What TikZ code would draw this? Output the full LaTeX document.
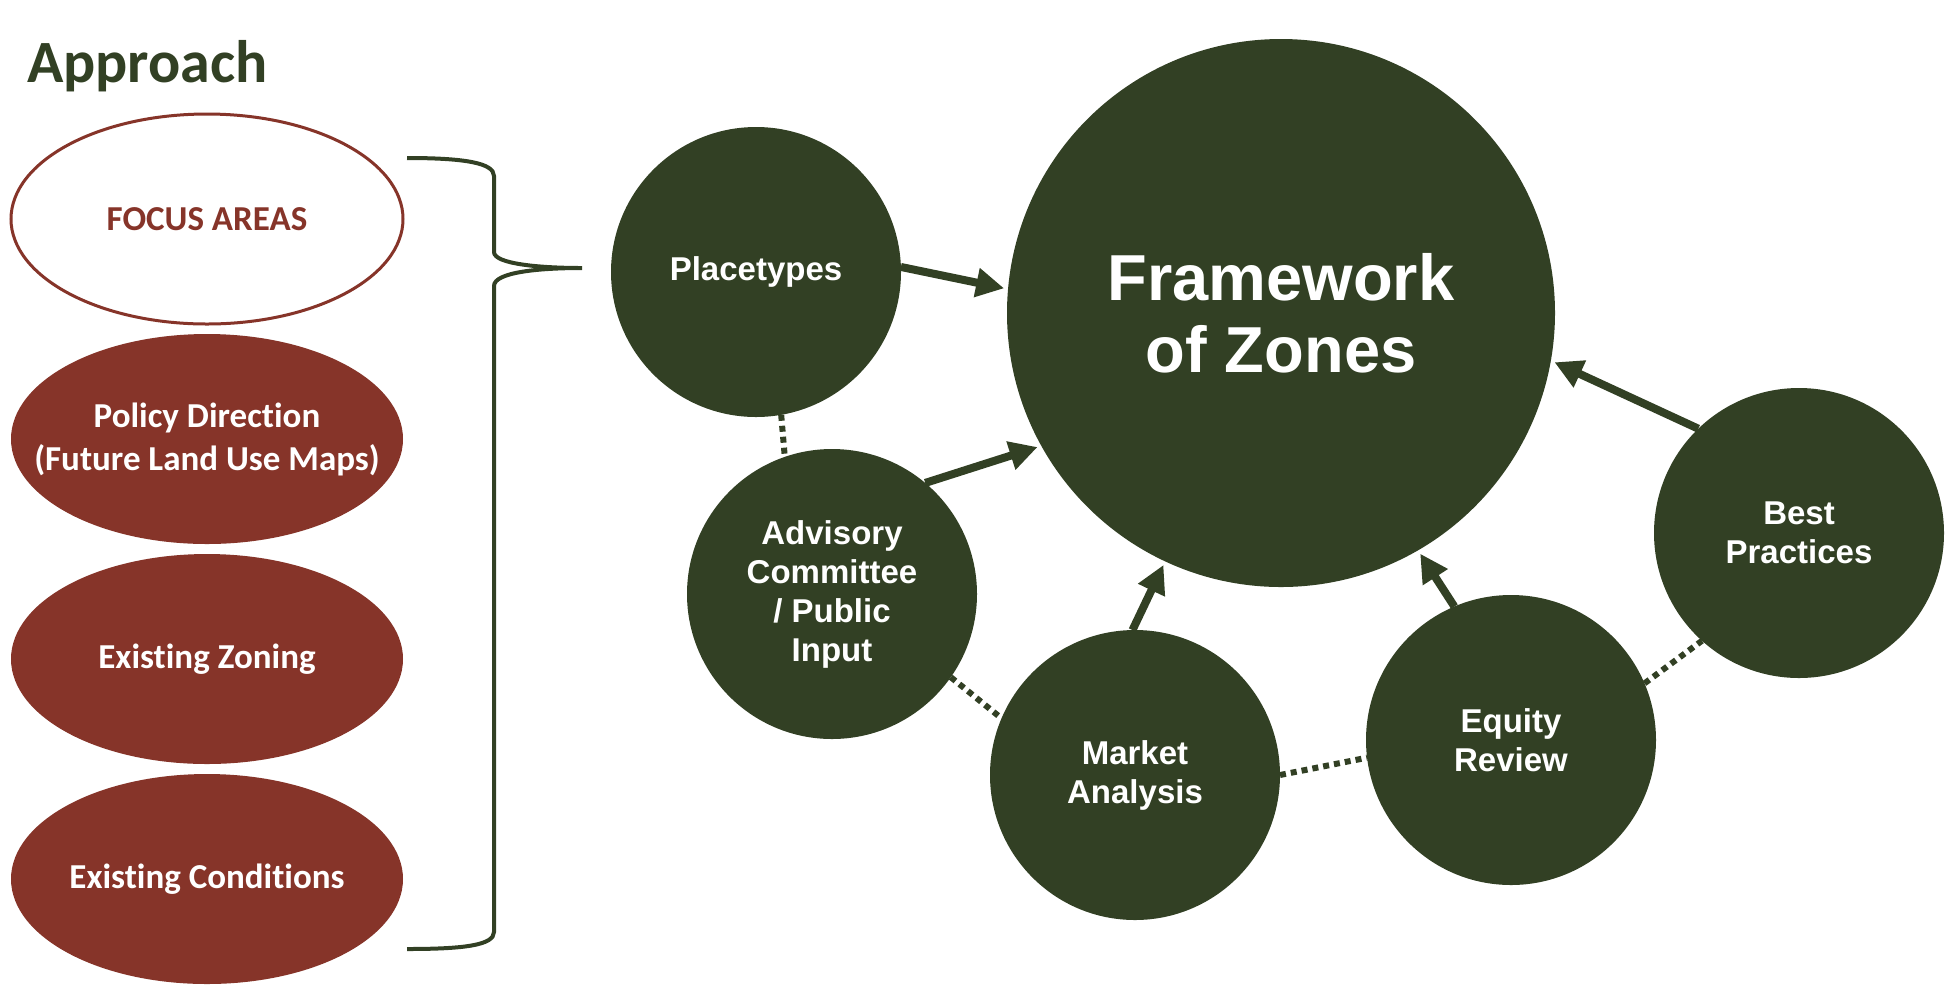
\documentclass[tikz,border=0pt]{standalone}
\usepackage{fontspec}
\setmainfont{Carlito}[Ligatures=NoCommon]
\newfontfamily\arialfont{Liberation Sans}
\usepackage{tikz}
\usetikzlibrary{arrows.meta,shapes.geometric}
\definecolor{zonegreen}{RGB}{50,64,36}
\definecolor{zonered}{RGB}{134,52,41}

\begin{document}
\begin{tikzpicture}[
    x=0.5pt, y=-0.5pt,
    area/.style={ellipse, fill=zonered, minimum width=196pt, minimum height=105pt, inner sep=0pt},
    areatext/.style={text=white, font=\bfseries\fontsize{17.5}{21.5}\selectfont, align=center},
    topic/.style={circle, fill=zonegreen, text=white, minimum size=145pt, inner sep=0pt, outer sep=0pt,
        font=\arialfont\bfseries\fontsize{16.5}{19.5}\selectfont, align=center},
    hub/.style={topic, minimum size=274pt, font=\arialfont\bfseries\fontsize{32.5}{36}\selectfont},
    flow/.style={zonegreen, line width=4pt, -{Triangle[length=14pt, width=14pt]}, shorten >=2pt},
    link/.style={zonegreen, line width=3pt, dash pattern=on 3pt off 2.5pt}
]
\useasboundingbox (0,0) rectangle (1950,993);

% left column
\node[anchor=base west, text=zonegreen, font=\bfseries\fontsize{30}{36}\selectfont] (title) at (20,82) {Approach};

\node[area, fill=white, draw=zonered, line width=1.5pt,
      label={[areatext, text=zonered]center:FOCUS AREAS}] (focus) at (207,219) {};
\node[area, label={[areatext]center:Policy Direction\\(Future Land Use Maps)}] (policy) at (207,439) {};
\node[area, label={[areatext]center:Existing Zoning}] (zoning) at (207,659) {};
\node[area, label={[areatext]center:Existing Conditions}] (conditions) at (207,879) {};

% brace
\draw[zonegreen, line width=2pt]
    (407,158) .. controls (465,158) and (494,163) .. (494,176) -- (494,252)
    .. controls (494,264) and (540,268) .. (582,268)
    .. controls (540,268) and (494,272) .. (494,286) -- (494,932)
    .. controls (494,945) and (465,949) .. (407,949);

% circles
\node[hub] (frame) at (1281,313) {Framework\\of Zones};
\node[topic] (place) at (756,272) {Placetypes};
\node[topic] (advisory) at (832,594) {Advisory\\Committee\\/ Public\\Input};
\node[topic] (market) at (1135,775) {Market\\Analysis};
\node[topic] (equity) at (1511,740) {Equity\\Review};
\node[topic] (best) at (1799,533) {Best\\Practices};

% arrows into the framework
\draw[flow] (place.2) -- (frame.175);
\draw[flow] (advisory.50) -- (frame.209);
\draw[flow] (market.91) -- (frame.245);
\draw[flow] (equity.113) -- (frame.300);
\draw[flow] (best.134) -- (frame.350);

% dotted ring
\draw[link] (place.280) -- (advisory.109);
\draw[link] (advisory.325) -- (market.157);
\draw[link] (market.0) -- (equity.187);
\draw[link] (equity.23) -- (best.228);
\end{tikzpicture}
\end{document}
